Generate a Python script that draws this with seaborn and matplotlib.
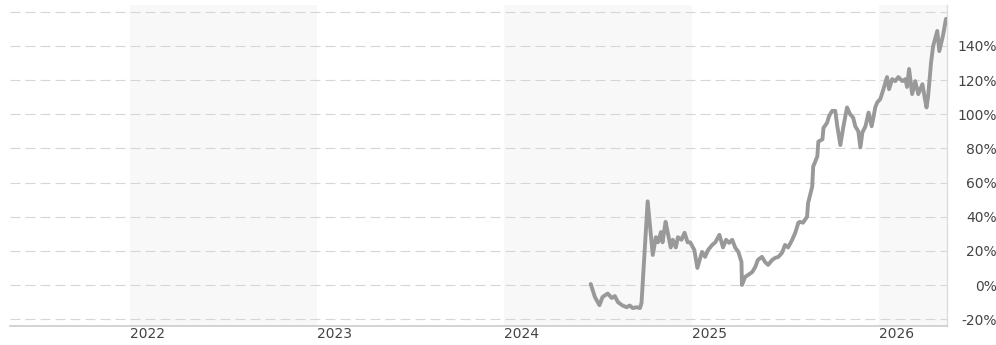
import numpy as np
import pandas as pd
import matplotlib
matplotlib.use("Agg")
import matplotlib.pyplot as plt
import matplotlib.dates as mdates
import seaborn as sns

# data (cumulative return, %)
dates = [
    "2024-06-18", "2024-06-26", "2024-07-05", "2024-07-11", "2024-07-21", "2024-07-29",
    "2024-08-04", "2024-08-10", "2024-08-19", "2024-08-27", "2024-09-02", "2024-09-08",
    "2024-09-16", "2024-09-22", "2024-09-25", "2024-10-07", "2024-10-17", "2024-10-23",
    "2024-10-27", "2024-11-02", "2024-11-05", "2024-11-11", "2024-11-15", "2024-11-21",
    "2024-11-25", "2024-12-01", "2024-12-05", "2024-12-12", "2024-12-18", "2024-12-24",
    "2024-12-29", "2025-01-06", "2025-01-12", "2025-01-21", "2025-01-27", "2025-02-02",
    "2025-02-10", "2025-02-16", "2025-02-24", "2025-03-03", "2025-03-09", "2025-03-15",
    "2025-03-21", "2025-03-27", "2025-04-02", "2025-04-08", "2025-04-09", "2025-04-15",
    "2025-04-21", "2025-04-29", "2025-05-05", "2025-05-10", "2025-05-18", "2025-05-24",
    "2025-05-30", "2025-06-07", "2025-06-13", "2025-06-19", "2025-06-26", "2025-07-02",
    "2025-07-08", "2025-07-16", "2025-07-22", "2025-07-28", "2025-07-31", "2025-08-06",
    "2025-08-14", "2025-08-16", "2025-08-24", "2025-08-26", "2025-09-03", "2025-09-05",
    "2025-09-13", "2025-09-15", "2025-09-22", "2025-09-26", "2025-10-02", "2025-10-08",
    "2025-10-12", "2025-10-18", "2025-10-24", "2025-10-31", "2025-11-06", "2025-11-12",
    "2025-11-16", "2025-11-22", "2025-11-26", "2025-11-30", "2025-12-06", "2025-12-12",
    "2025-12-18", "2025-12-22", "2025-12-25", "2025-12-29", "2026-01-04", "2026-01-10",
    "2026-01-17", "2026-01-21", "2026-01-27", "2026-02-02", "2026-02-08", "2026-02-16",
    "2026-02-22", "2026-02-25", "2026-03-01", "2026-03-07", "2026-03-13", "2026-03-19",
    "2026-03-27", "2026-03-31", "2026-04-04", "2026-04-07", "2026-04-13", "2026-04-17",
    "2026-04-25", "2026-04-29", "2026-05-06", "2026-05-12",
]
returns = [
    0.6, -7, -11.8, -7, -5, -7.6,
    -6.5, -10, -12, -13, -12, -13.5,
    -13, -13.5, -10.6, 49, 17.6, 28,
    25, 31, 25, 37, 31, 22,
    26.5, 22, 28, 26.5, 30.6, 25,
    25, 20.6, 10, 19.4, 16.5, 20.6,
    23.5, 25, 29.4, 22, 26.5, 24.7,
    26.5, 21.8, 19.4, 13.5, 0, 4.7,
    5.9, 7.6, 10.6, 14.7, 16.5, 13.5,
    11.8, 14.7, 15.9, 16.5, 18.8, 23.5,
    22, 26.5, 30.6, 36.5, 37, 36.5,
    40, 48, 57.6, 69.4, 75.3, 84,
    85.3, 92, 95, 99, 102, 102,
    93, 82, 93, 104, 100, 98,
    93, 90, 80.6, 89.4, 93, 101,
    93, 99, 104, 107, 109, 114.7,
    121.8, 114.7, 120.6, 119.4, 121.8, 119.4,
    120.6, 116, 126.5, 111.8, 119.4, 111.8,
    117.6, 110.6, 104, 110, 130.6, 140,
    148.8, 137, 145.9, 155.9,
]
years = [2022, 2023, 2024, 2025, 2026]
shaded_years = [2022, 2024, 2026]
y_ticks = [-20, 0, 20, 40, 60, 80, 100, 120, 140, 160]
y_labels = ["-20%", "0%", "20%", "40%", "60%", "80%", "100%", "120%", "140%", ""]

df = pd.DataFrame({"date": pd.to_datetime(dates), "ret": returns})

sns.set_style("white")
plt.rcParams["font.family"] = ["DejaVu Sans"]

fig = plt.figure(figsize=(9.96, 3.45), dpi=100)
ax = fig.add_axes([10 / 996, 19 / 345, 937 / 996, 321 / 345])

x_min = pd.Timestamp("2021-05-12")
x_max = pd.Timestamp("2026-05-14")

# alternating year bands
for yr in shaded_years:
    ax.axvspan(pd.Timestamp(f"{yr}-01-01"), min(pd.Timestamp(f"{yr + 1}-01-01"), x_max),
               color="#f8f8f8", lw=0, zorder=0)

for t in y_ticks:
    ax.axhline(t, color="#d6d6d6", lw=0.8, linestyle=(0, (9, 4.5)), zorder=1)

sns.lineplot(data=df, x="date", y="ret", ax=ax, color="#999999", lw=2.8, zorder=3)

ax.set_xlim(x_min, x_max)
ax.set_ylim(-24, 164)

ax.set_xticks([pd.Timestamp(f"{yr}-01-01") for yr in years])
ax.set_xticklabels([str(yr) for yr in years], ha="left", color="#444444", fontsize=10)
ax.tick_params(axis="x", length=0, pad=1)

ax.yaxis.tick_right()
ax.set_yticks(y_ticks)
ax.set_yticklabels(y_labels, ha="right", color="#444444", fontsize=10)
ax.tick_params(axis="y", length=0, pad=36)

ax.set_xlabel("")
ax.set_ylabel("")
ax.grid(False)

for side in ["top", "left"]:
    ax.spines[side].set_visible(False)
ax.spines["bottom"].set_color("#cccccc")
ax.spines["bottom"].set_linewidth(1.2)
ax.spines["right"].set_color("#dddddd")
ax.spines["right"].set_linewidth(1.0)

fig.savefig("out.png", dpi=100)
